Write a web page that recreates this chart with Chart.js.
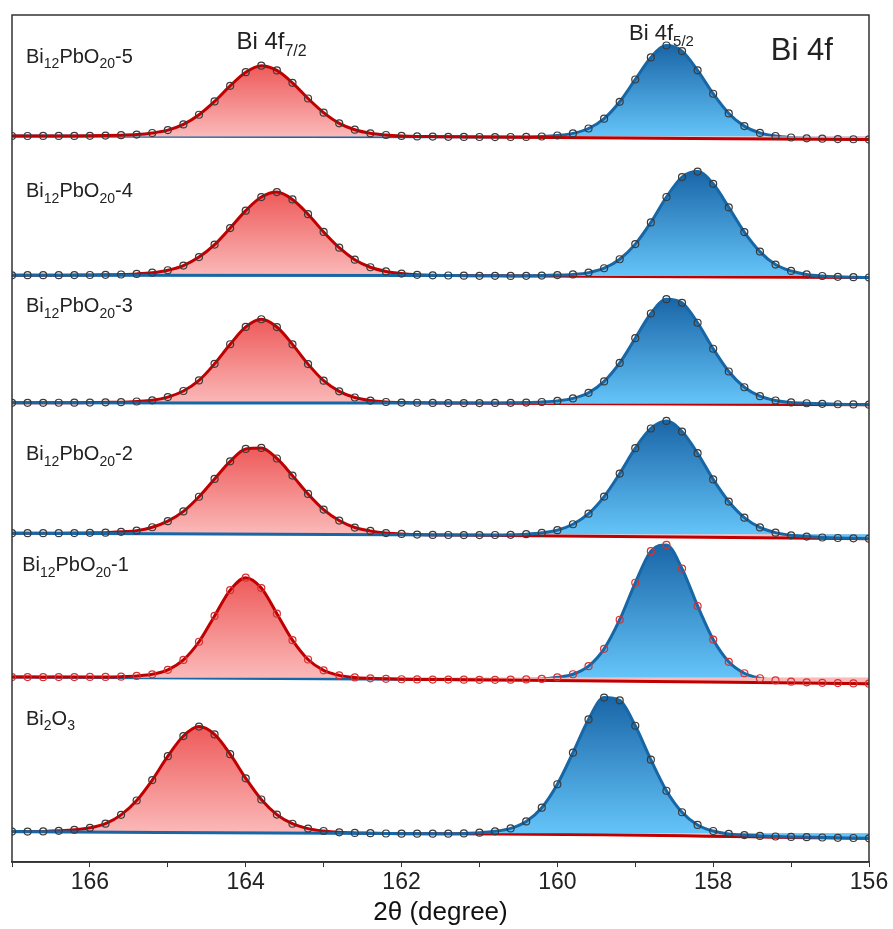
<!DOCTYPE html>
<html>
<head>
<meta charset="utf-8">
<script src="https://cdn.jsdelivr.net/npm/chart.js@4.4.1/dist/chart.umd.min.js"></script>
<style>
  html, body { margin: 0; padding: 0; background: #fff; }
  #wrap { width: 893px; height: 929px; }
</style>
</head>
<body>
<div id="wrap"><canvas id="xpsChart" width="893" height="929"></canvas></div>
<script>
// binding energy grid (degree axis as labelled in the figure)
const energies = [
  167.0, 166.8, 166.6, 166.4, 166.2, 166.0, 165.8, 165.6, 165.4, 165.2,
  165.0, 164.8, 164.6, 164.4, 164.2, 164.0, 163.8, 163.6, 163.4, 163.2,
  163.0, 162.8, 162.6, 162.4, 162.2, 162.0, 161.8, 161.6, 161.4, 161.2,
  161.0, 160.8, 160.6, 160.4, 160.2, 160.0, 159.8, 159.6, 159.4, 159.2,
  159.0, 158.8, 158.6, 158.4, 158.2, 158.0, 157.8, 157.6, 157.4, 157.2,
  157.0, 156.8, 156.6, 156.4, 156.2, 156.0
];

// intensities (a.u.) above each trace's own baseline
const countsS5 = [
  0.6, 0.6, 0.7, 0.7, 0.7, 0.8, 1.0, 1.4, 2.0, 3.6,
  6.5, 12.2, 21.9, 35.3, 50.9, 64.6, 71.2, 66.4, 53.9, 38.2,
  24.0, 13.3, 6.9, 3.3, 1.6, 0.7, 0.2, 0.0, -0.2, -0.3,
  -0.4, -0.5, -0.4, -0.3, 0.1, 1.1, 3.2, 8.1, 18.0, 34.9,
  57.3, 79.4, 91.4, 85.8, 66.5, 43.0, 23.2, 10.5, 3.7, 0.6,
  -0.9, -1.7, -2.1, -2.5, -2.7, -2.9
];
const countsS4 = [
  0.8, 0.9, 0.9, 0.9, 1.0, 1.1, 1.3, 1.6, 2.2, 3.4,
  5.9, 10.6, 19.1, 31.6, 48.2, 65.7, 79.3, 84.3, 76.9, 62.1,
  44.3, 28.5, 16.5, 8.9, 4.7, 2.5, 1.3, 0.8, 0.6, 0.4,
  0.3, 0.3, 0.2, 0.3, 0.5, 1.0, 1.7, 3.5, 7.9, 16.9,
  32.1, 53.9, 79.4, 99.4, 104.9, 92.6, 69.0, 44.2, 24.6, 11.6,
  5.2, 1.7, 0.1, -0.7, -1.1, -1.4
];
const countsS3 = [
  0.8, 0.8, 0.8, 0.9, 1.0, 1.1, 1.3, 1.5, 2.2, 3.4,
  6.6, 12.7, 23.3, 40.0, 59.6, 77.0, 84.7, 76.9, 59.5, 39.7,
  23.1, 12.4, 6.2, 3.1, 1.7, 1.1, 0.9, 0.7, 0.6, 0.6,
  0.6, 0.7, 0.8, 1.1, 1.7, 2.8, 5.3, 10.9, 22.3, 40.9,
  65.7, 90.5, 104.9, 101.2, 81.2, 55.1, 32.3, 16.5, 7.5, 3.2,
  1.2, 0.4, -0.2, -0.6, -0.8, -1.0
];
const countsS2 = [
  1.1, 1.1, 1.1, 1.1, 1.2, 1.4, 1.6, 2.4, 3.6, 7.0,
  13.1, 22.9, 37.6, 55.5, 73.1, 85.6, 86.6, 76.0, 58.8, 40.4,
  24.7, 13.7, 6.7, 3.3, 1.2, 0.3, -0.4, -0.7, -0.8, -0.9,
  -0.9, -0.8, -0.6, 0.0, 1.4, 4.1, 10.0, 20.6, 37.8, 60.9,
  86.3, 106.1, 113.7, 103.0, 81.3, 55.0, 32.8, 16.6, 6.8, 1.6,
  -1.1, -2.4, -3.3, -3.8, -4.1, -4.5
];
const countsS1 = [
  0.7, 0.7, 0.6, 0.7, 0.7, 0.8, 0.8, 1.1, 1.8, 3.4,
  7.9, 17.9, 36.1, 62.0, 87.9, 100.4, 90.0, 64.3, 37.7, 18.3,
  7.4, 2.4, 0.3, -0.6, -1.1, -1.5, -1.7, -1.8, -1.9, -2.0,
  -2.1, -2.1, -2.0, -1.7, -1.2, 0.4, 3.5, 11.6, 29.0, 58.2,
  95.3, 127.0, 133.3, 109.5, 72.0, 38.3, 16.0, 4.5, -0.5, -2.7,
  -4.0, -4.6, -5.1, -5.4, -5.7, -6.0
];
const countsBi2O3 = [
  1.6, 1.6, 1.8, 2.4, 3.4, 5.4, 9.6, 18.4, 32.8, 53.3,
  77.3, 97.5, 107.0, 99.1, 79.3, 55.1, 33.8, 18.7, 9.5, 4.6,
  2.2, 0.9, 0.3, 0.0, -0.3, -0.5, -0.5, -0.5, -0.5, -0.2,
  0.5, 1.9, 4.8, 11.8, 25.6, 49.1, 80.8, 114.2, 136.1, 133.3,
  107.8, 73.8, 42.6, 21.0, 8.3, 2.2, -0.7, -1.9, -2.7, -3.3,
  -3.7, -4.0, -4.3, -4.6, -4.8, -5.1
];

// traces from top to bottom, with their vertical offsets
const spectra = [countsS5, countsS4, countsS3, countsS2, countsS1, countsBi2O3];
const offsets = [728, 588, 460, 329, 185, 29];
const sampleNames = [
  [['Bi', 0], ['12', 1], ['PbO', 0], ['20', 1], ['-5', 0]],
  [['Bi', 0], ['12', 1], ['PbO', 0], ['20', 1], ['-4', 0]],
  [['Bi', 0], ['12', 1], ['PbO', 0], ['20', 1], ['-3', 0]],
  [['Bi', 0], ['12', 1], ['PbO', 0], ['20', 1], ['-2', 0]],
  [['Bi', 0], ['12', 1], ['PbO', 0], ['20', 1], ['-1', 0]],
  [['Bi', 0], ['2', 1], ['O', 0], ['3', 1]]
];
const tickLabels = [166, 164, 162, 160, 158, 156];
const splitEnergy = 161.4; // between the 4f7/2 and 4f5/2 components

const FONT = "'Liberation Sans', Arial, sans-serif";
const redOnTop = [true, false, false, false, true, false];

function fillGradient(chart, base, top, c0, c1) {
  if (!chart.chartArea) return c1;
  const y = chart.scales.y;
  const g = chart.ctx.createLinearGradient(0, y.getPixelForValue(top), 0, y.getPixelForValue(base));
  g.addColorStop(0, c0);
  g.addColorStop(1, c1);
  return g;
}

const datasets = [];
spectra.forEach((counts, p) => {
  const off = offsets[p];
  const pts = energies.map((e, i) => ({ x: e, y: off + counts[i] }));
  const last = pts[pts.length - 1], first = pts[0];

  const redPts = pts.filter(pt => pt.x >= splitEnergy - 1e-6).concat([{ x: last.x, y: last.y }]);
  const bluePts = [{ x: first.x, y: first.y }].concat(pts.filter(pt => pt.x <= splitEnergy + 1e-6));
  const redTop = Math.max(...redPts.map(pt => pt.y));
  const blueTop = Math.max(...bluePts.map(pt => pt.y));

  datasets.push({
    data: redPts,
    borderColor: '#c00000',
    borderWidth: 3,
    pointRadius: 0,
    cubicInterpolationMode: 'monotone',
    fill: { value: off },
    backgroundColor: ctx => fillGradient(ctx.chart, off, redTop, '#ee5a5a', '#fbb9b9'),
    order: redOnTop[p] ? 1 : 2
  });
  datasets.push({
    data: bluePts,
    borderColor: '#1766a6',
    borderWidth: 3,
    pointRadius: 0,
    cubicInterpolationMode: 'monotone',
    fill: { value: off },
    backgroundColor: ctx => fillGradient(ctx.chart, off, blueTop, '#1a66a8', '#64c4f8'),
    order: redOnTop[p] ? 2 : 1
  });
  datasets.push({
    data: pts,
    showLine: false,
    pointRadius: 3.5,
    pointBorderWidth: 1.2,
    pointBorderColor: p === 4 ? '#d63030' : '#3a3a3a',
    pointBackgroundColor: 'rgba(255,255,255,0)',
    order: 0
  });
});

function drawRich(ctx, parts, x, y, size) {
  parts.forEach(([txt, sub]) => {
    const s = sub ? Math.round(size * 0.68) : size;
    ctx.font = s + 'px ' + FONT;
    ctx.fillText(txt, x, sub ? y + size * 0.28 : y);
    x += ctx.measureText(txt).width;
  });
}

const nameBaselines = [802, 667, 552, 403, 292, 138];

const frameAndText = {
  id: 'frameAndText',
  afterDraw(chart) {
    const { ctx, chartArea: a, scales: { x, y } } = chart;
    ctx.save();
    ctx.strokeStyle = '#333';
    ctx.lineWidth = 1.5;
    ctx.strokeRect(a.left, a.top, a.right - a.left, a.bottom - a.top);

    ctx.fillStyle = '#222';
    ctx.textBaseline = 'alphabetic';
    sampleNames.forEach((parts, p) => {
      const ex = p === 4 ? 166.87 : 166.82;
      drawRich(ctx, parts, x.getPixelForValue(ex), y.getPixelForValue(nameBaselines[p]), 20);
    });
    drawRich(ctx, [['Bi 4f', 0], ['7/2', 1]], x.getPixelForValue(164.12), y.getPixelForValue(816), 24);
    drawRich(ctx, [['Bi 4f', 0], ['5/2', 1]], x.getPixelForValue(159.08), y.getPixelForValue(825), 22);
    drawRich(ctx, [['Bi 4f', 0]], x.getPixelForValue(157.26), y.getPixelForValue(805), 31);
    ctx.restore();
  }
};

new Chart(document.getElementById('xpsChart').getContext('2d'), {
  type: 'line',
  data: { datasets },
  options: {
    responsive: false,
    animation: false,
    events: [],
    layout: { padding: { left: 12, right: 24, top: 15, bottom: 2 } },
    plugins: {
      legend: { display: false },
      tooltip: { enabled: false }
    },
    scales: {
      x: {
        type: 'linear',
        reverse: true,
        min: 156,
        max: 167,
        ticks: {
          stepSize: 1,
          autoSkip: false,
          maxRotation: 0,
          padding: 3,
          color: '#222',
          font: { family: FONT, size: 23, lineHeight: 1.1 },
          callback: v => tickLabels.includes(v) ? String(v) : ''
        },
        grid: { drawOnChartArea: false, drawTicks: true, tickLength: 5, tickColor: '#333' },
        border: { display: true, color: '#333', width: 1.5 },
        title: {
          display: true,
          text: '2θ (degree)',
          color: '#111',
          font: { family: FONT, size: 26, lineHeight: 1.1 },
          padding: { top: 0, bottom: 0 }
        }
      },
      y: { display: false, min: 0, max: 850 }
    }
  },
  plugins: [frameAndText]
});
</script>
</body>
</html>
